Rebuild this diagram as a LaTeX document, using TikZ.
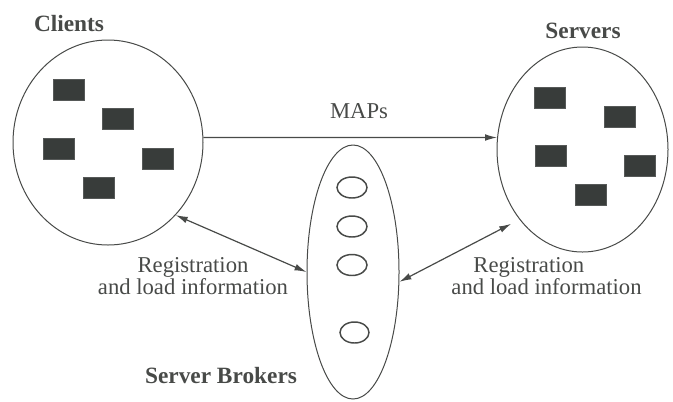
\documentclass[tikz,border=0pt]{standalone}
\usepackage{fontspec}
\setmainfont{Liberation Serif}
\usepackage{tikz}
\usetikzlibrary{shapes.geometric,arrows.meta}
\tikzset{every picture/.style={line width=0.75pt}}
\definecolor{inkgray}{RGB}{72,74,72}
\definecolor{boxgray}{RGB}{56,60,58}
\tikzset{
	group/.style={draw=inkgray,ellipse,inner sep=0pt},
	host/.style={draw=boxgray!85,fill=boxgray,minimum width=23.25pt,minimum height=15.75pt,inner sep=0pt},
	broker/.style={draw=inkgray,ellipse,line width=1.1pt,minimum width=22.5pt,minimum height=15.75pt,inner sep=0pt},
	label/.style={text=inkgray,font=\fontsize{17}{14}\selectfont,anchor=base,inner sep=0pt},
	title/.style={label,font=\fontsize{17.5}{20}\selectfont\bfseries},
	link/.style={draw=inkgray,line width=0.9pt,>={Latex[length=9pt,width=5pt]}}
}

\begin{document}
\begin{tikzpicture}[x=0.75pt,y=0.75pt,yscale=-1,xscale=1]
		\useasboundingbox (0,0) rectangle (673,401);
		
		%Shape: Ellipse [id:clients] 
		\node [group,minimum width=142.5pt,minimum height=153.75pt] (clients) at (108,142.5) {};
		%Shape: Ellipse [id:servers] 
		\node [group,minimum width=128.25pt,minimum height=153.75pt] (servers) at (582.5,149.5) {};
		%Shape: Ellipse [id:brokers] 
		\node [group,minimum width=69pt,minimum height=190.5pt] (brokers) at (353,272) {};
		
		%Shape: Rectangle [id:c1..c5] 
		\node [host] (c1) at (68.5,89.5) {};
		\node [host] (c2) at (118,119) {};
		\node [host] (c3) at (58.5,148.5) {};
		\node [host] (c4) at (158,158.5) {};
		\node [host] (c5) at (98.5,188) {};
		
		%Shape: Rectangle [id:s1..s5] 
		\node [host] (s1) at (550,97.5) {};
		\node [host] (s2) at (619.5,117) {};
		\node [host] (s3) at (551,156) {};
		\node [host] (s4) at (639.5,166) {};
		\node [host] (s5) at (590.5,195) {};
		
		%Shape: Ellipse [id:b1..b4] 
		\node [broker] (b1) at (352,187.5) {};
		\node [broker] (b2) at (352,226.5) {};
		\node [broker] (b3) at (352,265) {};
		\node [broker,minimum width=21.75pt] (b4) at (354.5,332.5) {};
		
		%Straight Lines [id:maps] 
		\draw [link,->] (clients.3) -- (servers.172) ;
		%Straight Lines [id:regleft] 
		\draw [link,<->] (clients.-47.5) -- (brokers.west) ;
		%Straight Lines [id:regright] 
		\draw [link,<->,shorten >=7pt] (brokers.-12) -- (servers.228) ;
		
		% Text Node
		\node [title] (clientstitle) at (69,31) {Clients};
		% Text Node
		\node [title] (serverstitle) at (583,38) {Servers};
		% Text Node
		\node [title] (brokerstitle) at (221,383) {Server Brokers};
		% Text Node
		\node [label] (mapslabel) at (359,118) {MAPs};
		% Text Node
		\node [label,align=center] (regleft) at (193,294) {Registration\\[-0.75pt]and load information};
		% Text Node
		\node [label,align=left] (regright) at (546.5,294) {\hspace*{16.5pt}Registration\\[-0.75pt]and load information};
		
		\end{tikzpicture}
\end{document}
